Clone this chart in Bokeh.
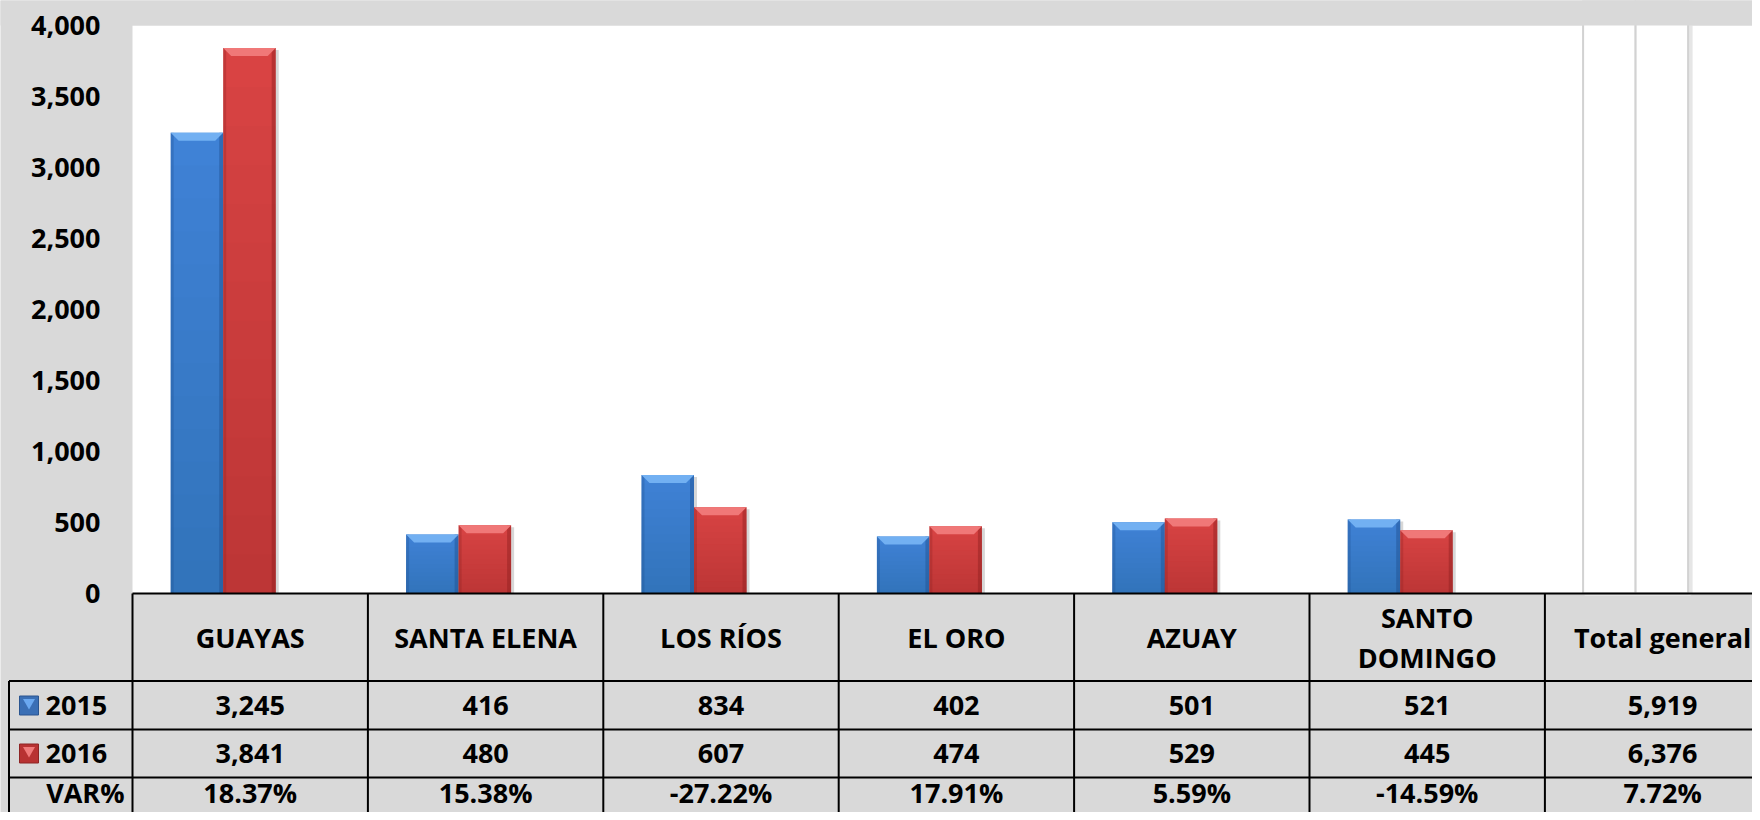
from bokeh.plotting import figure
from bokeh.models import Range1d
from bokeh.core.properties import value
from bokeh.embed import file_html
from bokeh.resources import INLINE

# ---------------- data ----------------
categories = ["GUAYAS", "SANTA ELENA", "LOS RÍOS", "EL ORO", "AZUAY", "SANTO\nDOMINGO", "Total general"]
series_names = ["2015", "2016"]
values_2015 = [3245, 416, 834, 402, 501, 521, 5919]
values_2016 = [3841, 480, 607, 474, 529, 445, 6376]
var_pct = [18.37, 15.38, -27.22, 17.91, 5.59, -14.59, 7.72]
y_ticks = [0, 500, 1000, 1500, 2000, 2500, 3000, 3500, 4000]
y_max = 4000

# ---------------- layout constants (pixels of the picture) ----------------
W, H = 1752, 812
CW = 235.4                 # width of one category column in px
X0 = 132                   # px where category 0 starts
Y0 = 593                   # px of the zero line
PX_PER_UNIT = 568.0 / 4000
UPP = 1.0 / PX_PER_UNIT

def xd(px):
    return (px - X0) / CW

def yd(py):
    return (Y0 - py) * UPP

GRAY = "#d9d9d9"
FONT = value("Open Sans")
FS = "27px"

p = figure(width=W, height=H, output_backend="svg", toolbar_location=None,
           x_range=Range1d(xd(0), xd(W)), y_range=Range1d(yd(H), yd(0)),
           x_axis_type=None, y_axis_type=None, min_border=0)
p.grid.visible = False
p.outline_line_color = None
p.background_fill_color = GRAY
p.border_fill_color = GRAY

n = len(categories)
x_right = xd(W) + 1

# white plot area
p.quad(left=[0], right=[x_right], bottom=[0], top=[y_max], fill_color="white", line_color=None)

# ---------------- bars ----------------
bw = 52.5 / CW
offset = -27 / CW
centers = [i + 0.5 + offset for i in range(n)]
x15 = [c - bw / 2 for c in centers]
x16 = [c + bw / 2 for c in centers]

normal = list(range(n - 1))
tot = [n - 1]

styles = [
    (x15, values_2015, "#3f82d6", "#72b0f2", "#1f4f8f"),
    (x16, values_2016, "#d94343", "#f07878", "#8f2020"),
]
dx = 8 / CW
dy = 8 * UPP
steps = 14
for xs, vals, main, light, dark in styles:
    sx = [xs[i] for i in normal]
    sv = [vals[i] for i in normal]
    # soft shadow
    p.vbar(x=[x + 3 / CW for x in sx], width=bw, top=[v - 2 * UPP for v in sv], bottom=0,
           fill_color="#b0b0b0", fill_alpha=0.5, line_color=None)
    p.vbar(x=sx, width=bw, top=sv, bottom=0, fill_color=main, line_color=None)
    # smooth darkening towards the bottom
    for k in range(1, steps):
        p.vbar(x=sx, width=bw, top=[v * k / steps for v in sv], bottom=0,
               fill_color=dark, fill_alpha=0.025, line_color=None)
    # side edges
    p.vbar(x=[x + bw / 2 - 2 / CW for x in sx], width=4 / CW, top=sv, bottom=0,
           fill_color=dark, fill_alpha=0.45, line_color=None)
    p.vbar(x=[x - bw / 2 + 1.5 / CW for x in sx], width=3 / CW, top=sv, bottom=0,
           fill_color=dark, fill_alpha=0.3, line_color=None)
    # top bevel
    bx = [[x - bw / 2, x + bw / 2, x + bw / 2 - dx, x - bw / 2 + dx] for x in sx]
    by = [[v, v, v - dy, v - dy] for v in sv]
    p.patches(xs=bx, ys=by, fill_color=light, line_color=None)

# Total general bars (beyond axis max, drawn white)
for xs, vals in ((x15, values_2015), (x16, values_2016)):
    p.vbar(x=[xs[i] + 2 / CW for i in tot], width=bw, top=[vals[i] for i in tot], bottom=0,
           fill_color=None, line_color="#e6e6e6", line_width=5)
    p.vbar(x=[xs[i] for i in tot], width=bw, top=[vals[i] for i in tot], bottom=0,
           fill_color="white", line_color="#d2d2d2", line_width=2)

# gray band above plot area (clips overflowing bars)
p.quad(left=[xd(0) - 1], right=[x_right], bottom=[y_max], top=[yd(0) + 100], fill_color=GRAY, line_color=None)

# ---------------- y tick labels ----------------
p.text(x=[xd(100)] * len(y_ticks), y=y_ticks, text=[f"{t:,}" for t in y_ticks],
       text_align="right", text_baseline="middle", text_font=FONT, text_font_style="bold",
       text_font_size=FS, text_color="black")

# ---------------- data table ----------------
y_h = yd(680.5)
y_r1 = yd(729)
y_r2 = yd(777)
y_bot = yd(H) - 100
x_left = xd(8.5)

p.segment(x0=[0, x_left, x_left, x_left], x1=[x_right] * 4, y0=[0, y_h, y_r1, y_r2], y1=[0, y_h, y_r1, y_r2],
          line_color="black", line_width=2)
p.segment(x0=list(range(n + 1)), x1=list(range(n + 1)), y0=[0] * (n + 1), y1=[y_bot] * (n + 1),
          line_color="black", line_width=2)
p.segment(x0=[x_left], x1=[x_left], y0=[y_h], y1=[y_bot], line_color="black", line_width=2)

col_c = [i + 0.5 for i in range(n)]
common = dict(text_font=FONT, text_font_style="bold", text_font_size=FS, text_color="black")
p.text(x=col_c, y=[yd(637)] * n, text=categories, text_align="center", text_baseline="middle",
       text_line_height=1.08, **common)
p.text(x=col_c, y=[yd(705)] * n, text=[f"{v:,}" for v in values_2015], text_align="center",
       text_baseline="middle", **common)
p.text(x=col_c, y=[yd(753)] * n, text=[f"{v:,}" for v in values_2016], text_align="center",
       text_baseline="middle", **common)
p.text(x=col_c, y=[yd(792)] * n, text=[f"{v:.2f}%" for v in var_pct], text_align="center",
       text_baseline="middle", **common)

row_y = [yd(705), yd(753)]
p.text(x=[xd(45)] * 2, y=row_y, text=series_names, text_align="left", text_baseline="middle", **common)
p.text(x=[xd(124)], y=[yd(792)], text=["VAR%"], text_align="right", text_baseline="middle", **common)
key_x = [xd(28.5)] * 2
p.rect(x=key_x, y=row_y, width=19, height=19, width_units="screen", height_units="screen",
       fill_color=["#3a6fb5", "#b83232"], line_color=["#2a5590", "#8e2424"], line_width=1)
p.scatter(x=key_x, y=[y + 3 * UPP for y in row_y], size=12, marker="inverted_triangle",
          fill_color=["#6aa8f0", "#f07a7a"], line_color=None)

open("out.html", "w").write(file_html(p, INLINE))
